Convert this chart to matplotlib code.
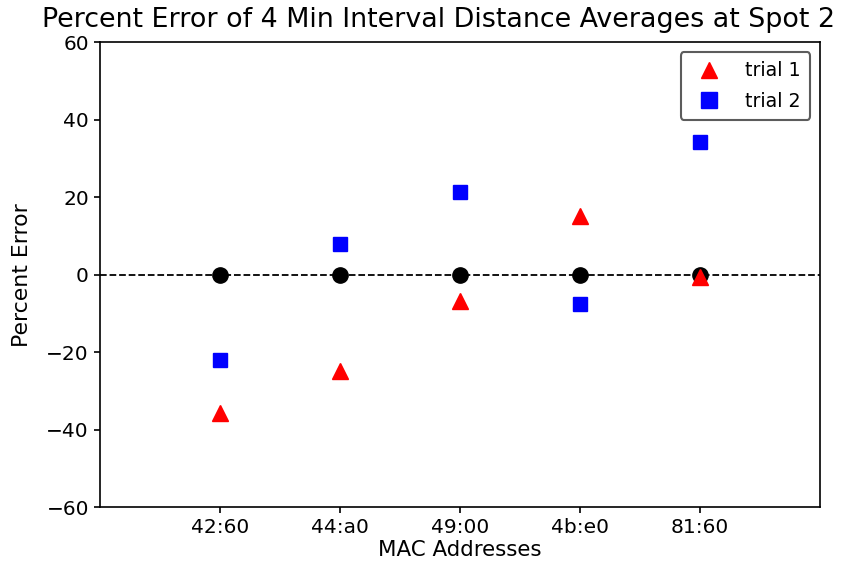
import matplotlib
matplotlib.use("Agg")
import matplotlib.pyplot as plt
import numpy as np

plt.rcParams['font.family'] = ['DejaVu Sans']

macs = ["42:60", "44:a0", "49:00", "4b:e0", "81:60"]
trial1 = [-35.7, -24.9, -6.8, 15.1, -0.6]
trial2 = [-22.1, 7.9, 21.3, -7.6, 34.2]
reference = [0, 0, 0, 0, 0]

fig = plt.figure(figsize=(8.41, 5.71), dpi=100)
ax = fig.add_axes([0.119, 0.112, 0.856, 0.814])
x = np.arange(len(macs))
ax.axhline(0, color="black", linestyle="--", linewidth=1.3, zorder=1)
ax.plot(x, reference, "o", color="black", markersize=11, zorder=2)
ax.plot(x, trial1, "^", color="red", markersize=11, linestyle="none", label="trial 1", zorder=3)
ax.plot(x, trial2, "s", color="blue", markersize=10.5, linestyle="none", label="trial 2", zorder=3)
ax.set_xlim(-1, 5)
ax.set_ylim(-60, 60)
ax.set_xticks(x)
ax.set_xticklabels(macs)
ax.set_yticks(np.arange(-60, 61, 20))
ax.tick_params(labelsize=14.5, length=4.5, width=1.2)
for s in ax.spines.values():
    s.set_linewidth(1.2)
ax.set_xlabel("MAC Addresses", fontsize=15.4, labelpad=2)
ax.set_ylabel("Percent Error", fontsize=15.8, labelpad=10)
fig.text(0.522, 0.965, "Percent Error of 4 Min Interval Distance Averages at Spot 2", ha="center", va="center", fontsize=19.4)
leg = ax.legend(loc="upper right", fontsize=13.7, frameon=True, fancybox=True,
                handletextpad=0.9, labelspacing=0.6, borderpad=0.5, markerscale=1.1,
                borderaxespad=0.5)
leg.get_frame().set_edgecolor("#333333")
leg.get_frame().set_linewidth(1.5)
fig.savefig("out.png", dpi=100)
